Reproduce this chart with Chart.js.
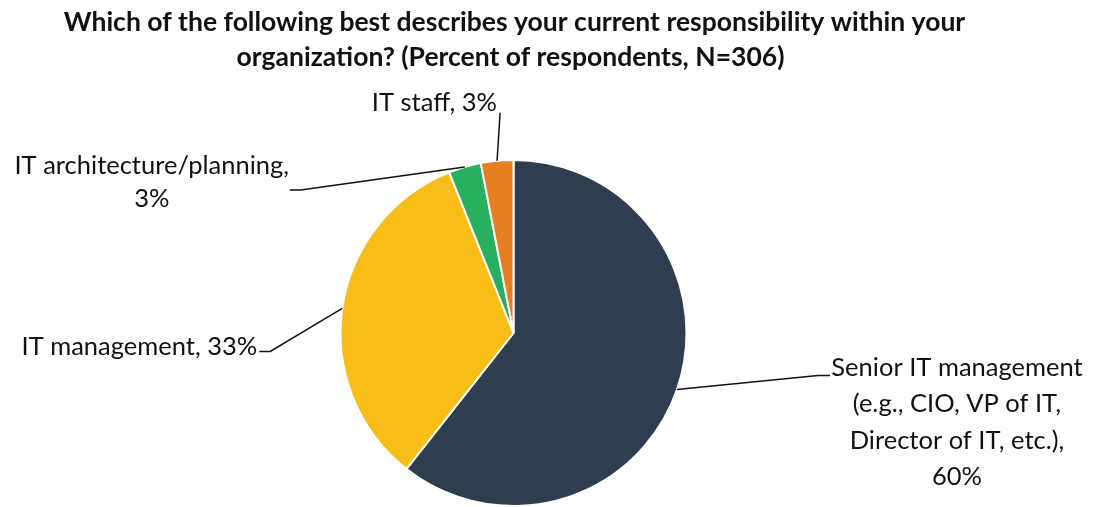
<!DOCTYPE html>
<html>
<head>
<meta charset="utf-8">
<script src="https://cdn.jsdelivr.net/npm/chart.js@4/dist/chart.umd.min.js"></script>
<style>
  html, body { margin: 0; padding: 0; background: #fff; }
  #wrap { width: 1094px; height: 507px; }
</style>
</head>
<body>
<div id="wrap"><canvas id="c"></canvas></div>
<script>
const categories = [
  'Senior IT management (e.g., CIO, VP of IT, Director of IT, etc.)',
  'IT management',
  'IT architecture/planning',
  'IT staff'
];
const values = [60, 33, 3, 3];
const labelLines = [
  ['Senior IT management', '(e.g., CIO, VP of IT,', 'Director of IT, etc.),', '60%'],
  ['IT management, 33%'],
  ['IT architecture/planning,', '3%'],
  ['IT staff, 3%']
];
const titleLines = [
  'Which of the following best describes your current responsibility within your',
  'organization? (Percent of respondents, N=306)'
];
const colors = ['#2E3E50', '#F6BE16', '#28AF60', '#E67F22'];

const FONT = 'Lato, "Open Sans", sans-serif';

// where each label sits relative to its slice's edge point
const placement = [
  { elbow: [141, -14], end: [153, -14], align: 'center', tx: 280, ty: -22, lh: 36.5 },
  { elbow: [-72, 43], end: [-83, 43], align: 'right', tx: -85, ty: 38, lh: 33 },
  { elbow: [-164, 23], end: [-175, 23], align: 'center', tx: -313, ty: -1, lh: 33 },
  { elbow: [3, -48], end: [3, -48], align: 'right', tx: 0, ty: -58, lh: 33 }
];

const calloutPlugin = {
  id: 'callouts',
  afterDatasetsDraw(chart) {
    const ctx = chart.ctx;
    const arcs = chart.getDatasetMeta(0).data;
    ctx.save();

    // title, centred over the pie
    const cx = (chart.chartArea.left + chart.chartArea.right) / 2;
    ctx.font = 'bold 26.5px ' + FONT;
    ctx.fillStyle = '#111';
    ctx.textAlign = 'center';
    ctx.textBaseline = 'middle';
    ctx.fillText(titleLines[0], cx + 1, 22);
    ctx.fillText(titleLines[1], cx - 3, 57);

    ctx.font = '25.5px ' + FONT;
    ctx.strokeStyle = '#111';
    ctx.lineWidth = 1.5;
    arcs.forEach((arc, i) => {
      const p = arc.getProps(['x', 'y', 'startAngle', 'endAngle', 'outerRadius'], true);
      const mid = (p.startAngle + p.endAngle) / 2;
      const ax = p.x + Math.cos(mid) * p.outerRadius;
      const ay = p.y + Math.sin(mid) * p.outerRadius;
      const pl = placement[i];
      ctx.beginPath();
      ctx.moveTo(ax, ay);
      ctx.lineTo(ax + pl.elbow[0], ay + pl.elbow[1]);
      ctx.lineTo(ax + pl.end[0], ay + pl.end[1]);
      ctx.stroke();
      ctx.textAlign = pl.align;
      ctx.textBaseline = 'middle';
      labelLines[i].forEach((line, k) => {
        ctx.fillText(line, ax + pl.tx, ay + pl.ty + k * pl.lh);
      });
    });
    ctx.restore();
  }
};

new Chart(document.getElementById('c'), {
  type: 'pie',
  data: {
    labels: categories,
    datasets: [{
      data: values,
      backgroundColor: colors,
      borderColor: '#ffffff',
      borderWidth: 2
    }]
  },
  options: {
    responsive: true,
    maintainAspectRatio: false,
    animation: false,
    layout: { padding: { left: 339, right: 406, top: 159, bottom: 0 } },
    plugins: {
      legend: { display: false },
      tooltip: { enabled: false },
      title: { display: false }
    }
  },
  plugins: [calloutPlugin]
});
</script>
</body>
</html>
